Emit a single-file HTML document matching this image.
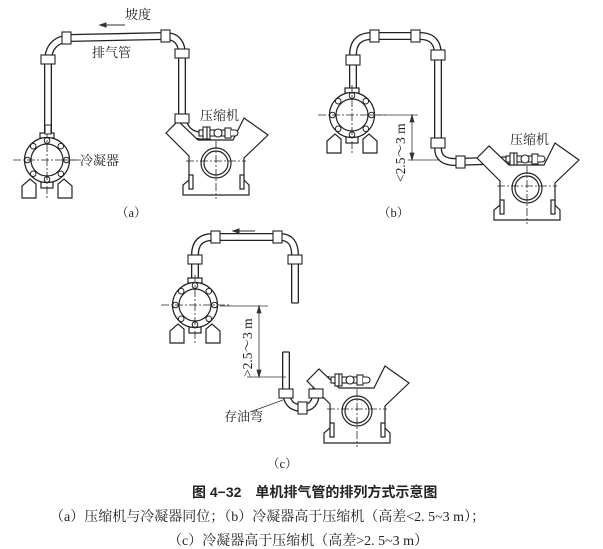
<!DOCTYPE html>
<html><head><meta charset="utf-8"><style>
html,body{margin:0;padding:0;background:#fff;}
svg{display:block;}
text{font-family:"Liberation Serif","Noto Serif CJK SC",serif;fill:#222;}
</style></head><body>
<svg width="603" height="549" viewBox="0 0 603 549" xmlns="http://www.w3.org/2000/svg">
<defs>
<g id="cond" stroke="#222" stroke-width="1.2" fill="#fff">
  <path d="M-25,38 L-25,26 L-17,19 L-11,24 L-11,38 Z"/>
  <path d="M25,38 L25,26 L17,19 L11,24 L11,38 Z"/>
  <rect x="-6" y="20" width="12" height="8"/>
  <rect x="-7" y="-27" width="14" height="5"/>
  <circle r="22.5"/>
  <circle r="16"/>
  <g stroke-width="1">
  <circle cx="0" cy="-19.5" r="2.8"/><circle cx="0" cy="19.5" r="2.8"/>
  <circle cx="-19.5" cy="0" r="2.8"/><circle cx="19.5" cy="0" r="2.8"/>
  <circle cx="-13.8" cy="-13.8" r="2.8"/><circle cx="13.8" cy="-13.8" r="2.8"/>
  <circle cx="-13.8" cy="13.8" r="2.8"/><circle cx="13.8" cy="13.8" r="2.8"/>
  </g>
  <path d="M-34,0 H34 M0,-30 V40" stroke-width="0.8" stroke-dasharray="8,2,2,2" fill="none"/>
</g>
<g id="comp" stroke="#222" stroke-width="1.2" fill="#fff">
  <path d="M-50,-30 L-38,-42 L-18,-23 L17,-23 L28,-45 L52,-28 L28,-5 L28,17 L33,22 L33,32 L-33,32 L-33,22 L-27,17 L-27,-7 Z"/>
  <rect x="-27" y="12" width="4" height="14"/><rect x="24" y="12" width="4" height="14"/>
  <circle r="15"/><circle r="12"/>
  <path d="M-30,-2 H30 M0,-22 V36" stroke-width="0.8" stroke-dasharray="8,2,2,2" fill="none"/>
</g>
<g id="valve" stroke="#222" stroke-width="1.1" fill="#fff">
  <rect x="-14" y="-4" width="34" height="6"/>
  <rect x="-10" y="-7" width="4" height="12"/>
  <rect x="-6" y="-7" width="3" height="12"/>
  <circle cx="5" cy="-1" r="4"/>
  <rect x="12" y="-6" width="6" height="10"/>
  <path d="M18,-4 h4 a3,3 0 0 1 0,6 h-4" />
</g>
</defs>

<g fill="none" stroke-linecap="butt" stroke-linejoin="round">
<path d="M48,135 V62 Q48,40 70,38 L165,36 Q182,36 182,55 V112 Q182,135 203,136" stroke="#222" stroke-width="8"/>
<path d="M48,135 V62 Q48,40 70,38 L165,36 Q182,36 182,55 V112 Q182,135 203,136" stroke="#fff" stroke-width="5.4"/>
<path d="M353,92 V55 Q353,36 372,36 L420,36 Q438,36 438,55 V148 Q438,162 455,162 L515,160" stroke="#222" stroke-width="8"/>
<path d="M353,92 V55 Q353,36 372,36 L420,36 Q438,36 438,55 V148 Q438,162 455,162 L515,160" stroke="#fff" stroke-width="5.4"/>
<path d="M195,282 V255 Q195,237 213,237 L280,237 Q295,237 295,255 V303" stroke="#222" stroke-width="8"/>
<path d="M195,282 V255 Q195,237 213,237 L280,237 Q295,237 295,255 V303" stroke="#fff" stroke-width="5.4"/>
<path d="M286,352 V390 Q286,408 302,408 Q316,408 316,392 Q316,382 330,380" stroke="#222" stroke-width="8"/>
<path d="M286,352 V390 Q286,408 302,408 Q316,408 316,392 Q316,382 330,380" stroke="#fff" stroke-width="5.4"/>
</g>
<line x1="282.5" y1="352" x2="289.5" y2="352" stroke="#222" stroke-width="1.2"/>
<line x1="291.5" y1="303" x2="298.5" y2="303" stroke="#222" stroke-width="1.2"/>

<use href="#cond" x="47" y="160"/>
<use href="#cond" x="352" y="115"/>
<use href="#cond" x="195" y="305"/>
<use href="#comp" x="216" y="163"/>
<use href="#comp" x="527" y="188"/>
<use href="#comp" x="357" y="411"/>
<rect x="45" y="125" width="6" height="9" fill="#fff" stroke="#222" stroke-width="1"/>
<use href="#valve" x="213" y="134"/>
<use href="#valve" x="520" y="160"/>
<use href="#valve" x="345" y="381"/>

<g fill="#fff" stroke="#222" stroke-width="1.1">
<rect x="41" y="55" width="14" height="9"/>
<rect x="62" y="32" width="9" height="12"/>
<rect x="161" y="30" width="9" height="12"/>
<rect x="175" y="49" width="14" height="9"/>
<rect x="175" y="114" width="14" height="9"/>
<rect x="346" y="55" width="14" height="10"/>
<rect x="370" y="30" width="9" height="12"/>
<rect x="411" y="30" width="9" height="12"/>
<rect x="431" y="50" width="14" height="10"/>
<rect x="431" y="138" width="14" height="10"/>
<rect x="456" y="156" width="9" height="12"/>
<rect x="188" y="255" width="14" height="9"/>
<rect x="211" y="231" width="9" height="12"/>
<rect x="273" y="231" width="9" height="12"/>
<rect x="288" y="255" width="14" height="9"/>
<rect x="279" y="389" width="14" height="9"/>
<rect x="298" y="402" width="9" height="12"/>
<rect x="309" y="389" width="14" height="9"/>
</g>

<g stroke="#333" stroke-width="1" fill="#333">
<line x1="102" y1="25" x2="125" y2="25"/><path d="M100,25 l6,-2 v4 z"/>
<line x1="235" y1="231" x2="255" y2="231"/><path d="M233,231 l6,-2 v4 z"/>
</g>

<g stroke="#333" stroke-width="0.8" fill="#333">
<line x1="372" y1="115" x2="418" y2="115"/>
<line x1="408" y1="160" x2="440" y2="160"/>
<line x1="412" y1="115" x2="412" y2="160"/>
<path d="M412,115 l-2,7 h4 z M412,160 l-2,-7 h4 z"/>
<line x1="220" y1="306" x2="268" y2="306"/>
<line x1="247" y1="377" x2="286" y2="377"/>
<line x1="259" y1="306" x2="259" y2="377"/>
<path d="M259,306 l-2,7 h4 z M259,377 l-2,-7 h4 z"/>
<line x1="250" y1="412" x2="283" y2="400"/>
<line x1="62" y1="160" x2="79" y2="160"/>
</g>

<g font-size="13">
<text x="125" y="19">坡度</text>
<text x="92" y="57">排气管</text>
<text x="80" y="165">冷凝器</text>
<text x="200" y="120">压缩机</text>
<text x="510" y="144">压缩机</text>
<text x="224" y="421">存油弯</text>
<text transform="translate(405,182) rotate(-90)" font-size="13.5">&lt;2.5～3 m</text>
<text transform="translate(252,377) rotate(-90)" font-size="13.5">&gt;2.5～3 m</text>
</g>
<g font-size="12.5">
<text x="116" y="217">（a）</text>
<text x="378" y="217">（b）</text>
<text x="267" y="468">（c）</text>
</g>
<text x="192" y="497" font-size="14" font-weight="bold" style="font-family:'Liberation Sans','Noto Sans CJK SC',sans-serif">图 4−32　单机排气管的排列方式示意图</text>
<text x="50" y="521" font-size="14">（a）压缩机与冷凝器同位；（b）冷凝器高于压缩机（高差&lt;2. 5~3 m）；</text>
<text x="168" y="545" font-size="14">（c）冷凝器高于压缩机（高差&gt;2. 5~3 m）</text>
</svg>
</body></html>
